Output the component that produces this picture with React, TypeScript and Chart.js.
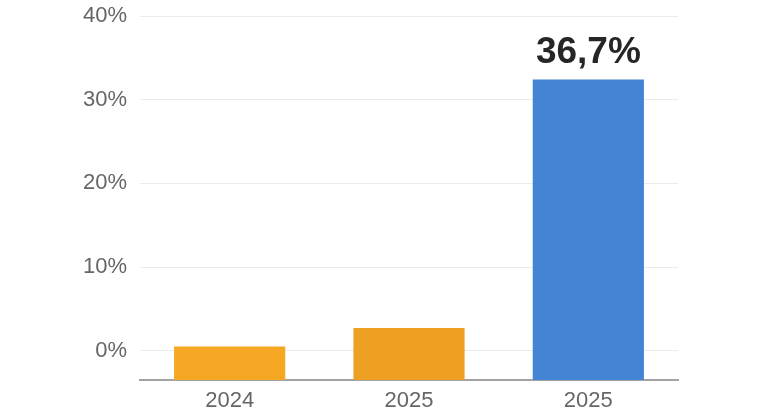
import React, { useEffect, useRef } from "react";
import { Chart, registerables } from "chart.js";

Chart.register(...registerables);

const categories = ["2024", "2025", "2025"];
const values = [0.5, 2.7, 32.4];
const barColors = ["#F5A623", "#EEA024", "#4384D4"];
const valueLabels = ["", "", "36,7%"];
const yMin = -3.5;
const yMax = 40;
const yStep = 10;

const labelPlugin = {
  id: "valueLabels",
  afterDatasetsDraw(chart: any) {
    const ctx = chart.ctx;
    const meta = chart.getDatasetMeta(0);
    ctx.save();
    ctx.font = "bold 37px 'Liberation Sans', Arial, sans-serif";
    ctx.fillStyle = "#262626";
    ctx.textAlign = "center";
    ctx.textBaseline = "alphabetic";
    meta.data.forEach((bar: any, i: number) => {
      const t = valueLabels[i];
      if (!t) return;
      ctx.fillText(t, bar.x, bar.y - 17);
    });
    ctx.restore();
  },
};

export default function App() {
  const ref = useRef<HTMLCanvasElement | null>(null);
  useEffect(() => {
    if (!ref.current) return;
    const chart = new Chart(ref.current, {
      type: "bar",
      data: {
        labels: categories,
        datasets: [
          {
            data: values,
            backgroundColor: barColors,
            base: yMin,
            barPercentage: 0.62,
            categoryPercentage: 1,
          } as any,
        ],
      },
      options: {
        animation: false,
        responsive: true,
        maintainAspectRatio: false,
        layout: { padding: { left: 0, right: 90, top: 16, bottom: 0 } },
        plugins: { legend: { display: false }, tooltip: { enabled: false } },
        scales: {
          x: {
            grid: { display: false, drawTicks: false },
            border: { display: true, color: "#A3A3A3", width: 2 },
            ticks: {
              color: "#666666",
              font: { family: "'Liberation Sans', Arial, sans-serif", size: 22 },
              padding: 8,
            },
            afterFit: (s: any) => {
              s.height = 40;
              s.paddingLeft = 0;
              s.paddingRight = 0;
            },
          },
          y: {
            min: yMin,
            max: yMax,
            border: { display: false },
            grid: { color: "#EBEBEB", lineWidth: 1, drawTicks: false },
            ticks: {
              stepSize: yStep,
              color: "#666666",
              padding: 13,
              font: { family: "'Liberation Sans', Arial, sans-serif", size: 22 },
              callback: (v: any) => v + "%",
            },
            afterBuildTicks: (s: any) => {
              s.ticks = s.ticks.filter((t: any) => t.value >= 0);
            },
            afterFit: (s: any) => {
              s.width = 140;
              s.paddingTop = 0;
              s.paddingBottom = 0;
            },
          },
        },
      },
      plugins: [labelPlugin],
    });
    return () => chart.destroy();
  }, []);
  return (
    <div style={{ position: "absolute", left: 0, top: 0, width: 768, height: 420, background: "#fff" }}>
      <canvas ref={ref} />
    </div>
  );
}
